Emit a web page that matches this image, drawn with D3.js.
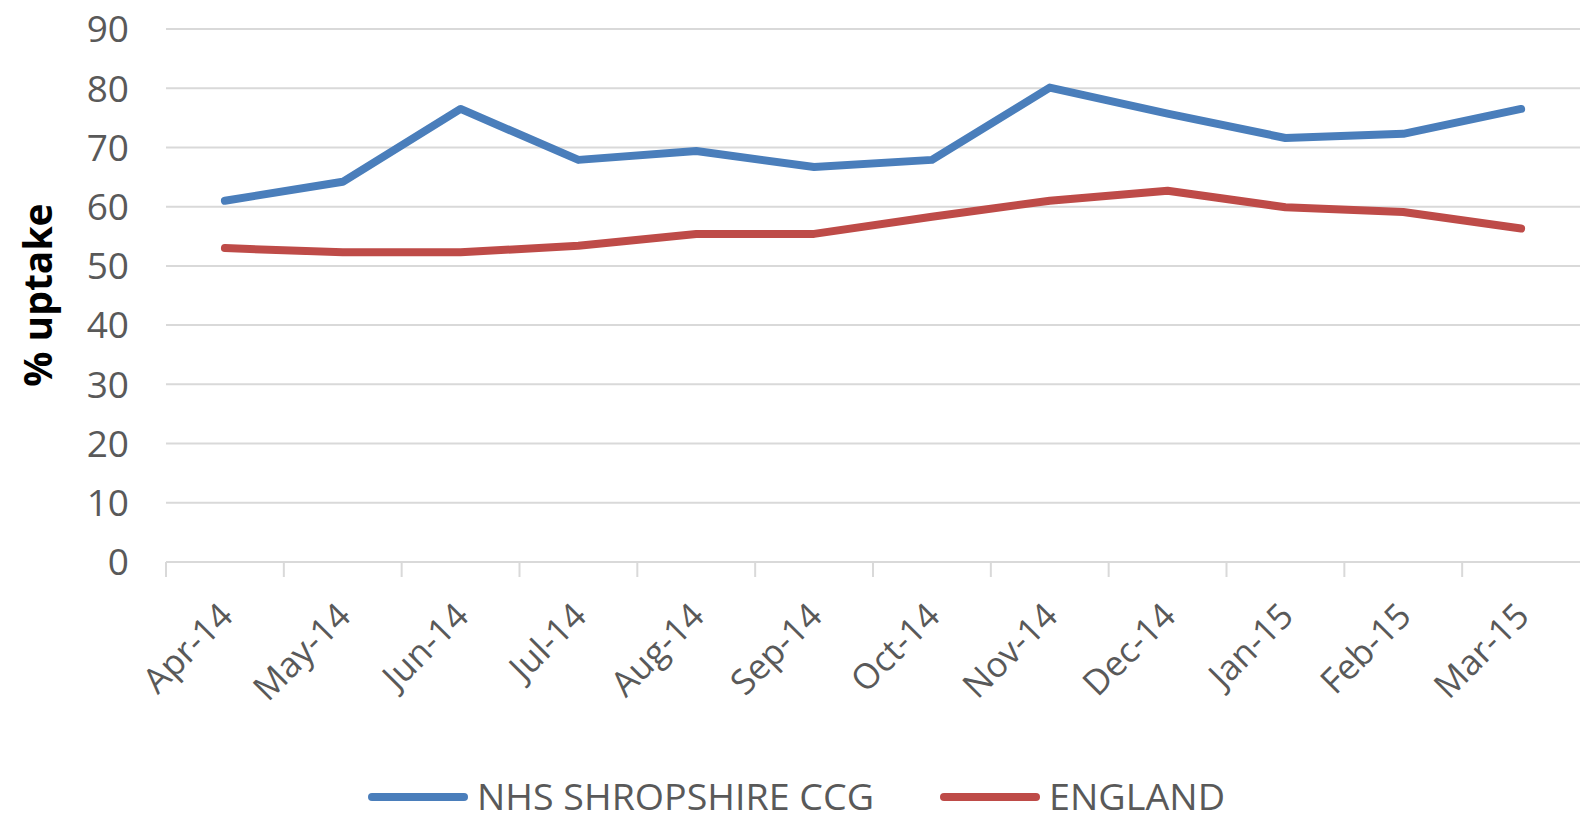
<!DOCTYPE html>
<html>
<head>
<meta charset="utf-8">
<script src="https://cdn.jsdelivr.net/npm/d3@7"></script>
<style>
  body { margin: 0; background: #fff; }
  svg { font-family: "Open Sans", "Noto Sans", sans-serif; }
</style>
</head>
<body>
<div id="chart"></div>
<script>
var months = ["Apr-14", "May-14", "Jun-14", "Jul-14", "Aug-14", "Sep-14",
              "Oct-14", "Nov-14", "Dec-14", "Jan-15", "Feb-15", "Mar-15"];
var shropshire = [61.0, 64.2, 76.5, 67.9, 69.4, 66.7, 67.9, 80.1, 75.7, 71.6, 72.3, 76.5];
var england = [53.0, 52.3, 52.3, 53.4, 55.4, 55.4, 58.3, 61.0, 62.7, 59.9, 59.1, 56.3];
var yTicks = [0, 10, 20, 30, 40, 50, 60, 70, 80, 90];
var seriesNames = ["NHS SHROPSHIRE CCG", "ENGLAND"];

var w = 1580, h = 823;
var plotLeft = 166, plotRight = 1580, plotTop = 29, plotBottom = 562;

var svg = d3.select("#chart").append("svg")
    .attr("width", w)
    .attr("height", h);

var x = d3.scaleBand().domain(months).range([plotLeft, plotRight]);
var y = d3.scaleLinear().domain([0, 90]).range([plotBottom, plotTop]);

// gridlines
svg.append("g")
    .selectAll("line")
    .data(yTicks)
    .enter().append("line")
    .attr("x1", plotLeft)
    .attr("x2", plotRight)
    .attr("y1", function(d) { return y(d); })
    .attr("y2", function(d) { return y(d); })
    .attr("stroke", "#d9d9d9")
    .attr("stroke-width", 2);

// y axis labels
svg.append("g")
    .selectAll("text")
    .data(yTicks)
    .enter().append("text")
    .attr("x", 129)
    .attr("y", function(d) { return y(d); })
    .attr("dy", "0.36em")
    .attr("text-anchor", "end")
    .attr("fill", "#595959")
    .attr("font-size", 37)
    .text(function(d) { return d; });

// x axis ticks
svg.append("g")
    .selectAll("line")
    .data(months)
    .enter().append("line")
    .attr("x1", function(d) { return x(d); })
    .attr("x2", function(d) { return x(d); })
    .attr("y1", plotBottom)
    .attr("y2", plotBottom + 15)
    .attr("stroke", "#d9d9d9")
    .attr("stroke-width", 2);

svg.append("g")
    .selectAll("text")
    .data(months)
    .enter().append("text")
    .attr("text-anchor", "end")
    .attr("fill", "#595959")
    .attr("font-size", 35)
    .attr("transform", function(d) {
        return "translate(" + (x(d) + x.bandwidth() / 2 + 10) + "," + (plotBottom + 56) + ") rotate(-45)";
    })
    .text(function(d) { return d; });

// y axis title
svg.append("text")
    .attr("transform", "translate(52,295) rotate(-90)")
    .attr("text-anchor", "middle")
    .attr("font-weight", "bold")
    .attr("font-size", 39)
    .attr("fill", "#000")
    .text("% uptake");

// lines
var colors = ["#4a7ebb", "#be4b48"];
var line = d3.line()
    .x(function(d, i) { return x(months[i]) + x.bandwidth() / 2; })
    .y(function(d) { return y(d); });

[shropshire, england].forEach(function(s, i) {
    svg.append("path")
        .datum(s)
        .attr("d", line)
        .attr("fill", "none")
        .attr("stroke", colors[i])
        .attr("stroke-width", 8)
        .attr("stroke-linecap", "round")
        .attr("stroke-linejoin", "round");
});

// legend
var legendX = [372, 944];
var legendW = [397, 176];
var legend = svg.append("g")
    .selectAll("g")
    .data(seriesNames)
    .enter().append("g")
    .attr("transform", function(d, i) { return "translate(" + legendX[i] + ",797)"; });
legend.append("line")
    .attr("x1", 0).attr("x2", 92)
    .attr("stroke", function(d, i) { return colors[i]; })
    .attr("stroke-width", 8)
    .attr("stroke-linecap", "round");
legend.append("text")
    .attr("x", 105)
    .attr("dy", "0.36em")
    .attr("fill", "#595959")
    .attr("font-size", 37)
    .attr("textLength", function(d, i) { return legendW[i]; })
    .attr("lengthAdjust", "spacingAndGlyphs")
    .text(function(d) { return d; });
</script>
</body>
</html>
